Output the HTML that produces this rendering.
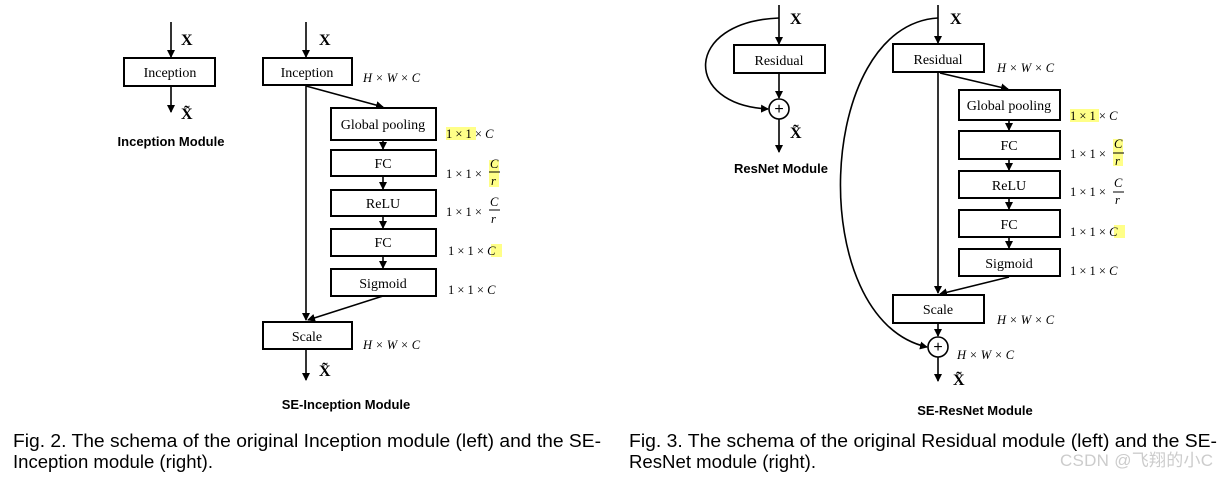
<!DOCTYPE html>
<html><head><meta charset="utf-8"><style>
body{margin:0;background:#fff;width:1230px;height:479px;overflow:hidden}
svg{display:block}
.b{fill:#fff;stroke:#000;stroke-width:2}
.t{font-family:"Liberation Serif",serif;font-size:14px;text-anchor:middle}
.m{font-family:"Liberation Serif",serif;font-size:12.5px}
.i{font-style:italic}
.x{font-family:"Liberation Serif",serif;font-size:16px;font-weight:bold}
.mod{font-family:"Liberation Sans",sans-serif;font-size:13px;font-weight:bold;text-anchor:middle}
.cap{font-family:"Liberation Sans",sans-serif;font-size:18px}
line,path{stroke:#000;stroke-width:1.6;fill:none}
</style></head><body>
<svg width="1230" height="479" viewBox="0 0 1230 479">
<defs><marker id="a" markerWidth="8" markerHeight="8" refX="7" refY="4" orient="auto" markerUnits="userSpaceOnUse"><path d="M0,0 L8,4 L0,8 z" style="fill:#000;stroke:none"/></marker></defs>
<!-- Inception -->
<line x1="171" y1="22" x2="171" y2="57" marker-end="url(#a)"/>
<text class="x" x="181" y="45">X</text>
<rect class="b" x="124" y="58" width="91" height="28"/><text class="t" x="170" y="77">Inception</text>
<line x1="171" y1="86" x2="171" y2="112" marker-end="url(#a)"/>
<text class="x" x="181" y="119">X̃</text>
<text class="mod" x="171" y="146">Inception Module</text>
<!-- SE-Inception -->
<line x1="306" y1="22" x2="306" y2="57" marker-end="url(#a)"/>
<text class="x" x="319" y="45">X</text>
<rect class="b" x="263" y="58" width="89" height="27"/><text class="t" x="307" y="77">Inception</text>
<text class="m i" x="363" y="82">H × W × C</text>
<line x1="306" y1="85" x2="306" y2="320" marker-end="url(#a)"/>
<line x1="306" y1="86" x2="383" y2="107" marker-end="url(#a)"/>
<rect class="b" x="331" y="108" width="105" height="32"/><text class="t" x="383" y="129">Global pooling</text>
<line x1="383" y1="140" x2="383" y2="149" marker-end="url(#a)"/>
<rect class="b" x="331" y="150" width="105" height="26"/><text class="t" x="383" y="168">FC</text>
<line x1="383" y1="176" x2="383" y2="189" marker-end="url(#a)"/>
<rect class="b" x="331" y="190" width="105" height="26"/><text class="t" x="383" y="208">ReLU</text>
<line x1="383" y1="216" x2="383" y2="228" marker-end="url(#a)"/>
<rect class="b" x="331" y="229" width="105" height="27"/><text class="t" x="383" y="247">FC</text>
<line x1="383" y1="256" x2="383" y2="268" marker-end="url(#a)"/>
<rect class="b" x="331" y="269" width="105" height="27"/><text class="t" x="383" y="288">Sigmoid</text>
<line x1="383" y1="296" x2="308" y2="320" marker-end="url(#a)"/>
<rect class="b" x="263" y="322" width="89" height="27"/><text class="t" x="307" y="341">Scale</text>
<text class="m i" x="363" y="349">H × W × C</text>
<line x1="306" y1="349" x2="306" y2="380" marker-end="url(#a)"/>
<text class="x" x="319" y="376">X̃</text>
<text class="mod" x="346" y="409">SE-Inception Module</text>
<rect x="446" y="127" width="30" height="13" fill="#ffff88"/>
<text class="m" x="446" y="138">1 × 1 × <tspan class="i">C</tspan></text>
<rect x="489" y="160" width="10" height="27" fill="#ffff88"/>
<text class="m" x="446" y="178">1 × 1 ×</text><text class="m i" x="490" y="168">C</text><line x1="489" y1="172" x2="500" y2="172" style="stroke-width:1"/><text class="m i" x="491" y="185">r</text>
<text class="m" x="446" y="216">1 × 1 ×</text><text class="m i" x="490" y="206">C</text><line x1="489" y1="210" x2="500" y2="210" style="stroke-width:1"/><text class="m i" x="491" y="223">r</text>
<rect x="491" y="244" width="11" height="13" fill="#ffff88"/>
<text class="m" x="448" y="255">1 × 1 × <tspan class="i">C</tspan></text>
<text class="m" x="448" y="294">1 × 1 × <tspan class="i">C</tspan></text>
<!-- ResNet -->
<line x1="779" y1="5" x2="779" y2="44" marker-end="url(#a)"/>
<text class="x" x="790" y="24">X</text>
<path d="M779,18 C683,22 683,105 768,109" marker-end="url(#a)"/>
<rect class="b" x="734" y="45" width="91" height="28"/><text class="t" x="779" y="65">Residual</text>
<line x1="779" y1="73" x2="779" y2="98" marker-end="url(#a)"/>
<circle cx="779" cy="109" r="10" fill="#fff" stroke="#000" stroke-width="1.6"/>
<text x="779" y="114" text-anchor="middle" style="font-family:'Liberation Sans';font-size:16px">+</text>
<line x1="779" y1="119" x2="779" y2="152" marker-end="url(#a)"/>
<text class="x" x="790" y="138">X̃</text>
<text class="mod" x="781" y="173">ResNet Module</text>
<!-- SE-ResNet -->
<line x1="938" y1="5" x2="938" y2="43" marker-end="url(#a)"/>
<text class="x" x="950" y="24">X</text>
<path d="M938,18 C815,25 805,320 927,347" marker-end="url(#a)"/>
<rect class="b" x="893" y="44" width="91" height="28"/><text class="t" x="938" y="64">Residual</text>
<text class="m i" x="997" y="72">H × W × C</text>
<line x1="938" y1="72" x2="938" y2="293" marker-end="url(#a)"/>
<line x1="940" y1="73" x2="1008" y2="89" marker-end="url(#a)"/>
<rect class="b" x="959" y="90" width="101" height="30"/><text class="t" x="1009" y="110">Global pooling</text>
<line x1="1009" y1="120" x2="1009" y2="130" marker-end="url(#a)"/>
<rect class="b" x="959" y="131" width="101" height="28"/><text class="t" x="1009" y="150">FC</text>
<line x1="1009" y1="159" x2="1009" y2="170" marker-end="url(#a)"/>
<rect class="b" x="959" y="171" width="101" height="27"/><text class="t" x="1009" y="190">ReLU</text>
<line x1="1009" y1="198" x2="1009" y2="209" marker-end="url(#a)"/>
<rect class="b" x="959" y="210" width="101" height="27"/><text class="t" x="1009" y="229">FC</text>
<line x1="1009" y1="237" x2="1009" y2="248" marker-end="url(#a)"/>
<rect class="b" x="959" y="249" width="101" height="27"/><text class="t" x="1009" y="268">Sigmoid</text>
<line x1="1009" y1="277" x2="940" y2="294" marker-end="url(#a)"/>
<rect class="b" x="893" y="295" width="91" height="28"/><text class="t" x="938" y="314">Scale</text>
<text class="m i" x="997" y="324">H × W × C</text>
<line x1="938" y1="323" x2="938" y2="336" marker-end="url(#a)"/>
<circle cx="938" cy="347" r="10" fill="#fff" stroke="#000" stroke-width="1.6"/>
<text x="938" y="352" text-anchor="middle" style="font-family:'Liberation Sans';font-size:16px">+</text>
<text class="m i" x="957" y="359">H × W × C</text>
<line x1="938" y1="357" x2="938" y2="381" marker-end="url(#a)"/>
<text class="x" x="953" y="385">X̃</text>
<text class="mod" x="975" y="415">SE-ResNet Module</text>
<rect x="1070" y="109" width="29" height="13" fill="#ffff88"/>
<text class="m" x="1070" y="120">1 × 1 × <tspan class="i">C</tspan></text>
<rect x="1113" y="139" width="10" height="27" fill="#ffff88"/>
<text class="m" x="1070" y="158">1 × 1 ×</text><text class="m i" x="1114" y="148">C</text><line x1="1113" y1="153" x2="1124" y2="153" style="stroke-width:1"/><text class="m i" x="1115" y="165">r</text>
<text class="m" x="1070" y="196">1 × 1 ×</text><text class="m i" x="1114" y="187">C</text><line x1="1113" y1="192" x2="1124" y2="192" style="stroke-width:1"/><text class="m i" x="1115" y="204">r</text>
<rect x="1114" y="225" width="11" height="13" fill="#ffff88"/>
<text class="m" x="1070" y="236">1 × 1 × <tspan class="i">C</tspan></text>
<text class="m" x="1070" y="275">1 × 1 × <tspan class="i">C</tspan></text>
<!-- captions -->
<text class="cap" x="13" y="447" textLength="588" lengthAdjust="spacingAndGlyphs">Fig. 2. The schema of the original Inception module (left) and the SE-</text>
<text class="cap" x="13" y="468" textLength="200" lengthAdjust="spacingAndGlyphs">Inception module (right).</text>
<text class="cap" x="629" y="447" textLength="588" lengthAdjust="spacingAndGlyphs">Fig. 3. The schema of the original Residual module (left) and the SE-</text>
<text class="cap" x="629" y="468" textLength="187" lengthAdjust="spacingAndGlyphs">ResNet module (right).</text>
<text x="1060" y="466" textLength="153" style="font-family:'Liberation Sans','Noto Sans CJK SC',sans-serif;font-size:17px;fill:#ccc">CSDN @飞翔的小C</text>
</svg>
</body></html>
